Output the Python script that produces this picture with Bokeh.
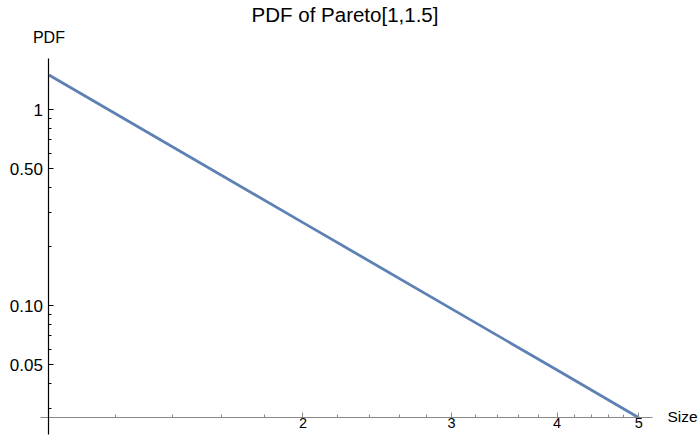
from bokeh.plotting import figure
from bokeh.models import FixedTicker, Label, Range1d
from bokeh.embed import file_html
from bokeh.resources import INLINE

# Pareto[1, 1.5] density over sizes 1..5 (straight line on log-log axes)
size = [1.0, 2.0, 3.0, 4.0, 5.0]
pdf = [1.5, 0.265, 0.0962, 0.0469, 0.0268]

x_major = [2, 3, 4, 5]
x_major_labels = ["2", "3", "4", "5"]
x_minor = [1.2, 1.4, 1.6, 1.8, 2.2, 2.4, 2.6, 2.8, 3.2, 3.4, 3.6, 3.8,
           4.2, 4.4, 4.6, 4.8]
y_major = [0.05, 0.1, 0.5, 1]
y_major_labels = ["0.05", "0.10", "0.50", "1"]
y_minor = [0.03, 0.04, 0.06, 0.07, 0.08, 0.09, 0.2, 0.3, 0.4, 0.6, 0.7,
           0.8, 0.9]

# the drawing area fills the page; axes are limited to the padded plot range
VIEW_X = (0.8762, 5.916)
VIEW_Y = (0.021744, 3.597)
AXIS_X = (0.977, 5.19)
AXIS_Y = (0.022, 1.82)

FONT = "Liberation Sans"
LINE_COLOR = "#5E81B5"
W, H = 700, 435

p = figure(
    width=W, height=H,
    x_axis_type="log", y_axis_type="log",
    x_range=Range1d(*VIEW_X), y_range=Range1d(*VIEW_Y),
    output_backend="svg", toolbar_location=None,
    min_border=0,
)
p.outline_line_color = None
p.xgrid.visible = False
p.ygrid.visible = False
p.background_fill_color = "white"
p.border_fill_color = "white"

p.line(size, pdf, line_color=LINE_COLOR, line_width=2.8)

# axes cross at the lower-left corner of the plotted curve
xa = p.xaxis[0]
xa.fixed_location = pdf[-1]
xa.bounds = AXIS_X
xa.ticker = FixedTicker(ticks=x_major, minor_ticks=x_minor)
xa.major_label_overrides = dict(zip(x_major, x_major_labels))
xa.axis_line_color = "#888888"
xa.major_tick_line_color = "#888888"
xa.minor_tick_line_color = "#888888"
xa.major_label_standoff = 0
xa.major_label_text_font_size = "14.5px"

ya = p.yaxis[0]
ya.fixed_location = size[0]
ya.bounds = AXIS_Y
ya.ticker = FixedTicker(ticks=y_major, minor_ticks=y_minor)
ya.major_label_overrides = dict(zip(y_major, y_major_labels))
ya.axis_line_color = "#000000"
ya.major_tick_line_color = "#000000"
ya.minor_tick_line_color = "#000000"
ya.major_label_standoff = 6
ya.major_label_text_font_size = "17px"

for ax in (xa, ya):
    ax.major_tick_in = 5
    ax.major_tick_out = 0
    ax.minor_tick_in = 3
    ax.minor_tick_out = 0
    ax.major_label_text_font = FONT
    ax.major_label_text_color = "#000000"
    ax.axis_line_width = 1.2

p.add_layout(Label(x=344.5, y=H - 14, x_units="screen", y_units="screen",
                   text="PDF of Pareto[1,1.5]", text_align="center",
                   text_baseline="alphabetic", text_font=FONT,
                   text_font_size="20.5px", text_color="#000000"))
p.add_layout(Label(x=size[0], y=AXIS_Y[1], text="PDF", text_align="center",
                   text_baseline="alphabetic", y_offset=21,
                   text_font=FONT, text_font_size="16px",
                   text_color="#000000"))
p.add_layout(Label(x=AXIS_X[1], y=pdf[-1], text="Size", text_align="left",
                   text_baseline="alphabetic", x_offset=15, y_offset=1,
                   text_font=FONT, text_font_size="15.5px",
                   text_color="#000000"))

open("out.html", "w").write(file_html(p, INLINE))
